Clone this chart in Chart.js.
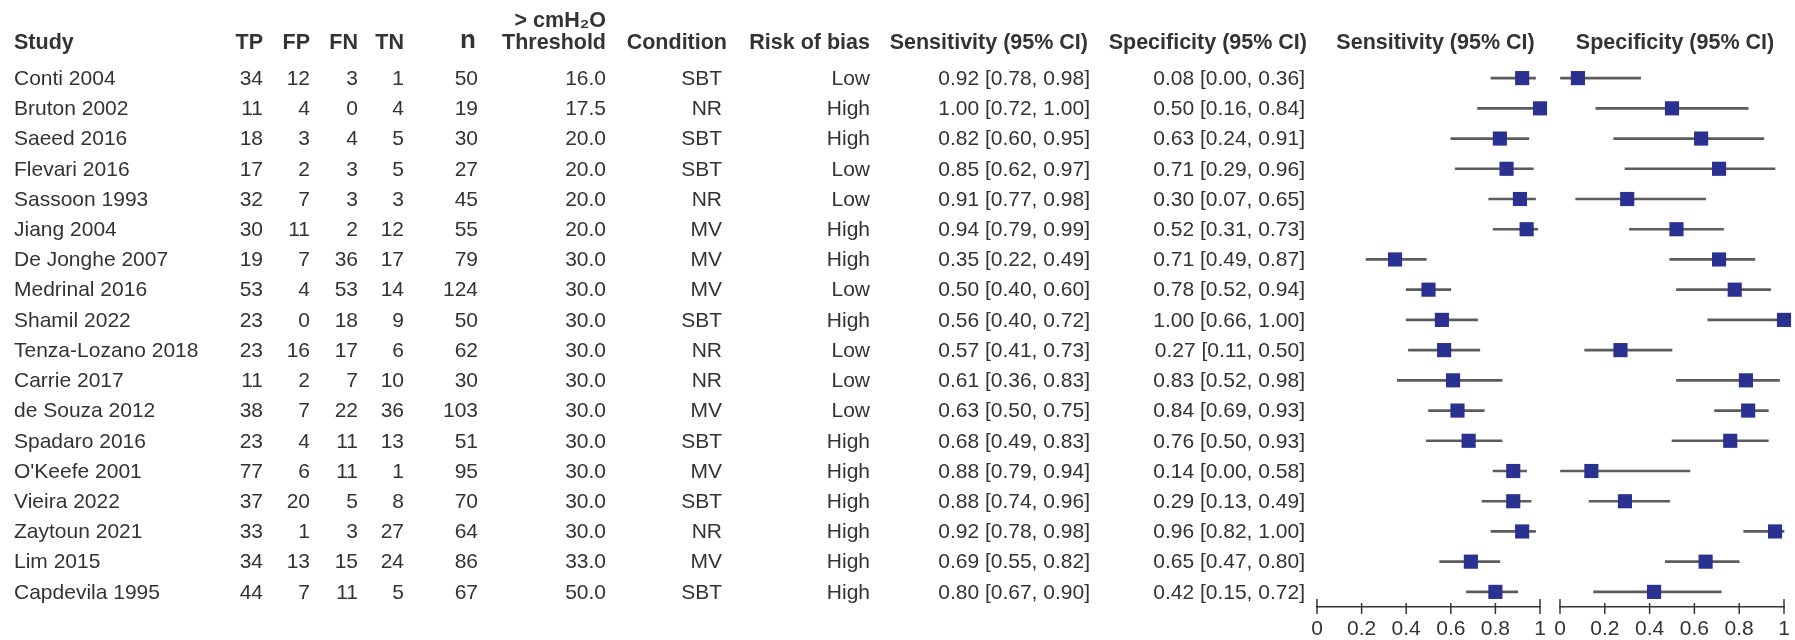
<!DOCTYPE html>
<html>
<head>
<meta charset="utf-8">
<title>Forest plot: sensitivity and specificity by study</title>
<script src="https://cdn.jsdelivr.net/npm/chart.js@4/dist/chart.umd.min.js"></script>
<style>
  html, body { margin: 0; padding: 0; background: #ffffff; }
  #wrap { position: relative; width: 1795px; height: 640px; }
  #wrap canvas { position: absolute; left: 0; top: 0; }
</style>
</head>
<body>
<div id="wrap">
  <canvas id="sensChart" width="1795" height="640"></canvas>
  <canvas id="specChart" width="1795" height="640"></canvas>
</div>
<script>
// Study-level 2x2 counts and accuracy estimates
const studies = ['Conti 2004', 'Bruton 2002', 'Saeed 2016', 'Flevari 2016', 'Sassoon 1993', 'Jiang 2004',
  'De Jonghe 2007', 'Medrinal 2016', 'Shamil 2022', 'Tenza-Lozano 2018', 'Carrie 2017', 'de Souza 2012',
  'Spadaro 2016', "O'Keefe 2001", 'Vieira 2022', 'Zaytoun 2021', 'Lim 2015', 'Capdevila 1995'];
const tp = [34, 11, 18, 17, 32, 30, 19, 53, 23, 23, 11, 38, 23, 77, 37, 33, 34, 44];
const fp = [12, 4, 3, 2, 7, 11, 7, 4, 0, 16, 2, 7, 4, 6, 20, 1, 13, 7];
const fn = [3, 0, 4, 3, 3, 2, 36, 53, 18, 17, 7, 22, 11, 11, 5, 3, 15, 11];
const tn = [1, 4, 5, 5, 3, 12, 17, 14, 9, 6, 10, 36, 13, 1, 8, 27, 24, 5];
const nTotal = [50, 19, 30, 27, 45, 55, 79, 124, 50, 62, 30, 103, 51, 95, 70, 64, 86, 67];
const threshold = [16.0, 17.5, 20.0, 20.0, 20.0, 20.0, 30.0, 30.0, 30.0, 30.0, 30.0, 30.0, 30.0, 30.0, 30.0, 30.0, 33.0, 50.0];
const condition = ['SBT', 'NR', 'SBT', 'SBT', 'NR', 'MV', 'MV', 'MV', 'SBT', 'NR', 'NR', 'MV', 'SBT', 'MV', 'SBT', 'NR', 'MV', 'SBT'];
const riskOfBias = ['Low', 'High', 'High', 'Low', 'Low', 'High', 'High', 'Low', 'High', 'Low', 'Low', 'Low', 'High', 'High', 'High', 'High', 'High', 'High'];

const sens = [0.92, 1.00, 0.82, 0.85, 0.91, 0.94, 0.35, 0.50, 0.56, 0.57, 0.61, 0.63, 0.68, 0.88, 0.88, 0.92, 0.69, 0.80];
const sensLo = [0.78, 0.72, 0.60, 0.62, 0.77, 0.79, 0.22, 0.40, 0.40, 0.41, 0.36, 0.50, 0.49, 0.79, 0.74, 0.78, 0.55, 0.67];
const sensHi = [0.98, 1.00, 0.95, 0.97, 0.98, 0.99, 0.49, 0.60, 0.72, 0.73, 0.83, 0.75, 0.83, 0.94, 0.96, 0.98, 0.82, 0.90];
const spec = [0.08, 0.50, 0.63, 0.71, 0.30, 0.52, 0.71, 0.78, 1.00, 0.27, 0.83, 0.84, 0.76, 0.14, 0.29, 0.96, 0.65, 0.42];
const specLo = [0.00, 0.16, 0.24, 0.29, 0.07, 0.31, 0.49, 0.52, 0.66, 0.11, 0.52, 0.69, 0.50, 0.00, 0.13, 0.82, 0.47, 0.15];
const specHi = [0.36, 0.84, 0.91, 0.96, 0.65, 0.73, 0.87, 0.94, 1.00, 0.50, 0.98, 0.93, 0.93, 0.58, 0.49, 1.00, 0.80, 0.72];

const axisTicks = [0, 0.2, 0.4, 0.6, 0.8, 1];

const TEXT = '#333333';
const BODY_FONT = '21px "Liberation Sans", Arial, sans-serif';
const HEAD_FONT = 'bold 21.5px "Liberation Sans", Arial, sans-serif';
const MARKER = '#2b3190';
const CI_LINE = '#5c5c5c';

const fmtCI = (v, lo, hi) => v.toFixed(2) + ' [' + lo.toFixed(2) + ', ' + hi.toFixed(2) + ']';

// Table columns: header text, anchor x, alignment and cell text
const columns = [
  { head: 'Study', x: 14, align: 'left', cell: i => studies[i] },
  { head: 'TP', x: 263, align: 'right', cell: i => String(tp[i]) },
  { head: 'FP', x: 310, align: 'right', cell: i => String(fp[i]) },
  { head: 'FN', x: 358, align: 'right', cell: i => String(fn[i]) },
  { head: 'TN', x: 404, align: 'right', cell: i => String(tn[i]) },
  { head: 'n', x: 478, hx: 476, align: 'right', cell: i => String(nTotal[i]), big: true },
  { head: 'Threshold', x: 606, align: 'right', cell: i => threshold[i].toFixed(1), top: '> cmH\u2082O' },
  { head: 'Condition', x: 722, hx: 727, align: 'right', cell: i => condition[i] },
  { head: 'Risk of bias', x: 870, align: 'right', cell: i => riskOfBias[i] },
  { head: 'Sensitivity (95% CI)', x: 1090, hx: 1088, align: 'right', cell: i => fmtCI(sens[i], sensLo[i], sensHi[i]) },
  { head: 'Specificity (95% CI)', x: 1305, hx: 1307, align: 'right', cell: i => fmtCI(spec[i], specLo[i], specHi[i]) }
];

// Draws the study table, aligned to the chart's category rows
const studyTable = {
  id: 'studyTable',
  afterDraw(chart) {
    const ctx = chart.ctx;
    const yScale = chart.scales.y;
    ctx.save();
    ctx.fillStyle = TEXT;
    ctx.textBaseline = 'middle';
    columns.forEach(col => {
      ctx.textAlign = col.align;
      ctx.font = col.big ? 'bold 26px "Liberation Sans", Arial, sans-serif' : HEAD_FONT;
      ctx.fillText(col.head, col.hx || col.x, col.big ? 41 : 43);
      if (col.top) {
        ctx.fillText(col.top, col.hx || col.x, 21);
      }
      ctx.font = BODY_FONT;
      studies.forEach((s, i) => {
        ctx.fillText(col.cell(i), col.x, yScale.getPixelForValue(i) + 1);
      });
    });
    ctx.restore();
  }
};

// Panel title above each forest plot
const panelTitle = {
  id: 'panelTitle',
  afterDraw(chart, args, opts) {
    const ctx = chart.ctx;
    const area = chart.chartArea;
    ctx.save();
    ctx.fillStyle = TEXT;
    ctx.font = HEAD_FONT;
    ctx.textAlign = 'center';
    ctx.textBaseline = 'middle';
    ctx.fillText(opts.text, (area.left + area.right) / 2 + (opts.shift || 0), 43);
    ctx.restore();
  }
};

// Tick marks crossing the axis line, taller at both ends
const axisTickMarks = {
  id: 'axisTickMarks',
  afterDraw(chart) {
    const ctx = chart.ctx;
    const xs = chart.scales.x;
    const y0 = chart.chartArea.bottom;
    ctx.save();
    ctx.strokeStyle = '#333333';
    ctx.lineWidth = 1.5;
    axisTicks.forEach((v, k) => {
      const px = xs.getPixelForValue(v);
      const end = k === 0 || k === axisTicks.length - 1;
      ctx.beginPath();
      ctx.moveTo(px, y0 - (end ? 8 : 4));
      ctx.lineTo(px, y0 + 7);
      ctx.stroke();
    });
    ctx.restore();
  }
};

function forestChart(canvasId, est, lo, hi, padLeft, padRight, title, shift, withTable) {
  const plugins = [panelTitle, axisTickMarks];
  if (withTable) plugins.push(studyTable);
  return new Chart(document.getElementById(canvasId), {
    type: 'bar',
    data: {
      labels: studies,
      datasets: [
        {
          type: 'line',
          indexAxis: 'y',
          data: est,
          showLine: false,
          pointStyle: 'rect',
          pointRadius: 10,
          pointHoverRadius: 10,
          pointBackgroundColor: MARKER,
          pointBorderColor: MARKER,
          pointBorderWidth: 0,
          clip: false,
          order: 1
        },
        {
          type: 'bar',
          indexAxis: 'y',
          data: lo.map((v, i) => [v, hi[i]]),
          backgroundColor: CI_LINE,
          borderWidth: 0,
          borderSkipped: false,
          barThickness: 2,
          clip: false,
          order: 2
        }
      ]
    },
    options: {
      indexAxis: 'y',
      responsive: false,
      animation: false,
      devicePixelRatio: 1,
      events: [],
      layout: { padding: { left: padLeft, right: padRight, top: 63, bottom: 0 } },
      plugins: {
        legend: { display: false },
        tooltip: { enabled: false },
        panelTitle: { text: title, shift: shift }
      },
      scales: {
        x: {
          type: 'linear',
          min: 0,
          max: 1,
          afterBuildTicks: scale => { scale.ticks = axisTicks.map(v => ({ value: v })); },
          afterFit: scale => { scale.height = 33; },
          grid: { drawOnChartArea: false, drawTicks: true, tickLength: 8, color: 'rgba(0,0,0,0)' },
          border: { display: true, color: '#333333', width: 1.5 },
          ticks: {
            color: TEXT,
            padding: 2,
            maxRotation: 0,
            autoSkip: false,
            font: { family: '"Liberation Sans", Arial, sans-serif', size: 21 },
            callback: v => String(v)
          }
        },
        y: {
          type: 'category',
          display: false,
          offset: true
        }
      }
    },
    plugins: plugins
  });
}

forestChart('sensChart', sens, sensLo, sensHi, 1317, 1795 - 1540, 'Sensitivity (95% CI)', 7, true);
forestChart('specChart', spec, specLo, specHi, 1560, 1795 - 1784, 'Specificity (95% CI)', 3, false);
</script>
</body>
</html>
